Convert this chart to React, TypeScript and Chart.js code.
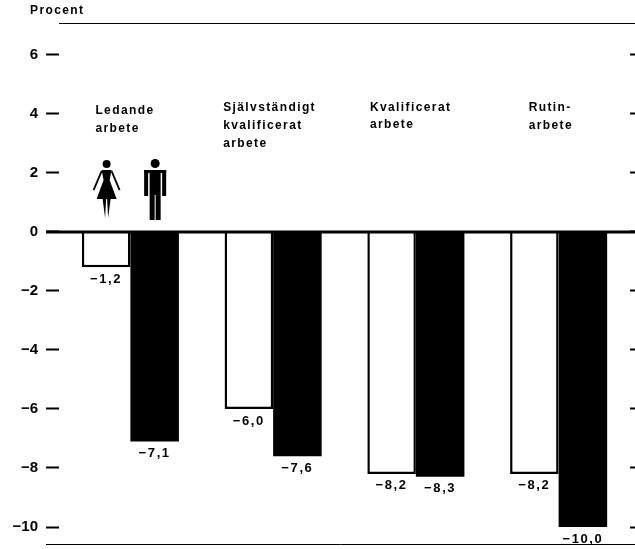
import React, { useEffect, useRef } from "react";
import { Chart, registerables } from "chart.js";

Chart.register(...registerables);

const categories = ["Ledande arbete", "Självständigt kvalificerat arbete", "Kvalificerat arbete", "Rutinarbete"];
const categoryLines = [
  ["Ledande", "arbete"],
  ["Självständigt", "kvalificerat", "arbete"],
  ["Kvalificerat", "arbete"],
  ["Rutin-", "arbete"],
];
const women = [-1.2, -6.0, -8.2, -8.2];
const men = [-7.1, -7.6, -8.3, -10.0];
const tickValues = [-10, -8, -6, -4, -2, 0, 2, 4, 6];

const fmt = (v: number) => "\u2212" + Math.abs(v).toFixed(1).replace(".", ",");

const FONT = '"Liberation Sans", Arial, sans-serif';

function drawWoman(c: CanvasRenderingContext2D, x: number, y: number) {
  c.save();
  c.translate(x, y);
  c.fillStyle = "#000";
  c.strokeStyle = "#000";
  c.beginPath();
  c.arc(0, 4, 4, 0, Math.PI * 2);
  c.fill();
  c.beginPath();
  c.moveTo(-5, 10);
  c.lineTo(5, 10);
  c.lineTo(3, 20);
  c.lineTo(10, 39);
  c.lineTo(-10, 39);
  c.lineTo(-3, 20);
  c.closePath();
  c.fill();
  c.lineWidth = 1.8;
  c.beginPath();
  c.moveTo(-5, 11);
  c.lineTo(-13, 30);
  c.moveTo(5, 11);
  c.lineTo(13, 30);
  c.stroke();
  c.beginPath();
  c.moveTo(-4, 39);
  c.lineTo(-0.5, 39);
  c.lineTo(-1.5, 58);
  c.closePath();
  c.moveTo(4, 39);
  c.lineTo(0.5, 39);
  c.lineTo(1.5, 58);
  c.closePath();
  c.fill();
  c.restore();
}

function drawMan(c: CanvasRenderingContext2D, x: number, y: number) {
  c.save();
  c.translate(x, y);
  c.fillStyle = "#000";
  c.beginPath();
  c.arc(0, 4.5, 4.5, 0, Math.PI * 2);
  c.fill();
  c.fillRect(-11, 11, 22, 3);
  c.fillRect(-11, 11, 4, 26);
  c.fillRect(7, 11, 4, 26);
  c.fillRect(-5.5, 11, 11, 25);
  c.fillRect(-5.5, 36, 5, 25);
  c.fillRect(0.5, 36, 5, 25);
  c.restore();
}

const overlay = {
  id: "overlay",
  afterDatasetsDraw(chart: any) {
    const c: CanvasRenderingContext2D = chart.ctx;
    const { left, top, bottom } = chart.chartArea;
    const y = chart.scales.y;
    const x = chart.scales.x;
    const W = chart.width;
    c.save();
    c.strokeStyle = "#000";
    c.lineWidth = 1;
    c.beginPath();
    c.moveTo(left, top + 0.5);
    c.lineTo(W, top + 0.5);
    c.moveTo(left - 13, bottom - 0.5);
    c.lineTo(W, bottom - 0.5);
    c.stroke();
    c.lineWidth = 3;
    c.beginPath();
    c.moveTo(left - 13, y.getPixelForValue(0));
    c.lineTo(W, y.getPixelForValue(0));
    c.stroke();

    // value labels
    c.fillStyle = "#000";
    c.font = `bold 13px ${FONT}`;
    c.textAlign = "center";
    c.textBaseline = "middle";
    (c as any).letterSpacing = "1.6px";
    chart.data.datasets.forEach((ds: any, i: number) => {
      chart.getDatasetMeta(i).data.forEach((bar: any, j: number) => {
        c.fillText(fmt(ds.data[j]), bar.x, bar.y + 12);
      });
    });

    // category labels
    c.font = `bold 12px ${FONT}`;
    c.textAlign = "left";
    (c as any).letterSpacing = "1.4px";
    const lineGap = [18, 18, 17, 18];
    const startVal = [4.1, 4.2, 4.2, 4.2];
    const offset = [-35, -50, -46, -30];
    categoryLines.forEach((lines, i) => {
      lines.forEach((t, k) => {
        c.fillText(t, x.getPixelForValue(i) + offset[i], y.getPixelForValue(startVal[i]) + k * lineGap[i]);
      });
    });

    // axis title
    c.fillText("Procent", 30, 11);
    (c as any).letterSpacing = "0px";

    // figures
    const top2 = y.getPixelForValue(2.47);
    const bars0 = chart.getDatasetMeta(0).data[0];
    const bars1 = chart.getDatasetMeta(1).data[0];
    drawWoman(c, bars0.x + 0.5, top2 + 1);
    drawMan(c, bars1.x + 0.5, top2);
    c.restore();
  },
};

const fixPadding = (s: any, w: number) => {
  s.width = w;
  s.paddingTop = 0;
  s.paddingBottom = 0;
};

export default function App() {
  const ref = useRef<HTMLCanvasElement>(null);
  useEffect(() => {
    document.body.style.margin = "0";
    const chart = new Chart(ref.current!, {
      type: "bar",
      data: {
        labels: categories,
        datasets: [
          { label: "Kvinnor", data: women, backgroundColor: "#fff", borderColor: "#000", borderWidth: 2.5, borderSkipped: "start", barPercentage: 1, categoryPercentage: 0.68 },
          { label: "Män", data: men, backgroundColor: "#000", borderColor: "#000", borderWidth: 0, barPercentage: 1, categoryPercentage: 0.68 },
        ],
      },
      plugins: [overlay],
      options: {
        responsive: false,
        animation: false,
        layout: { padding: { top: 23, bottom: 4, left: 0, right: 0 } },
        plugins: { legend: { display: false }, tooltip: { enabled: false } },
        scales: {
          x: {
            display: false,
            grid: { display: false },
          },
          y: {
            min: -10.61,
            max: 7.08,
            afterFit: (s: any) => fixPadding(s, 59),
            afterBuildTicks: (s: any) => { s.ticks = tickValues.map((value) => ({ value })); },
            border: { display: false },
            grid: { drawOnChartArea: false, tickLength: 13, tickWidth: 2, tickColor: "#000" },
            ticks: {
              padding: 8,
              color: "#000",
              font: { family: FONT, size: 15, weight: "bold" },
              callback: (v: any) => (v < 0 ? "\u2212" + Math.abs(v) : String(v)),
            },
          },
          y2: {
            position: "right",
            min: -10.61,
            max: 7.08,
            afterFit: (s: any) => fixPadding(s, 5),
            afterBuildTicks: (s: any) => { s.ticks = tickValues.map((value) => ({ value })); },
            border: { display: false },
            grid: { drawOnChartArea: false, tickLength: 5, tickWidth: 2, tickColor: "#000" },
            ticks: { display: false },
          },
        },
      } as any,
    });
    return () => chart.destroy();
  }, []);
  return <canvas ref={ref} width={635} height={549} style={{ display: "block" }} />;
}
